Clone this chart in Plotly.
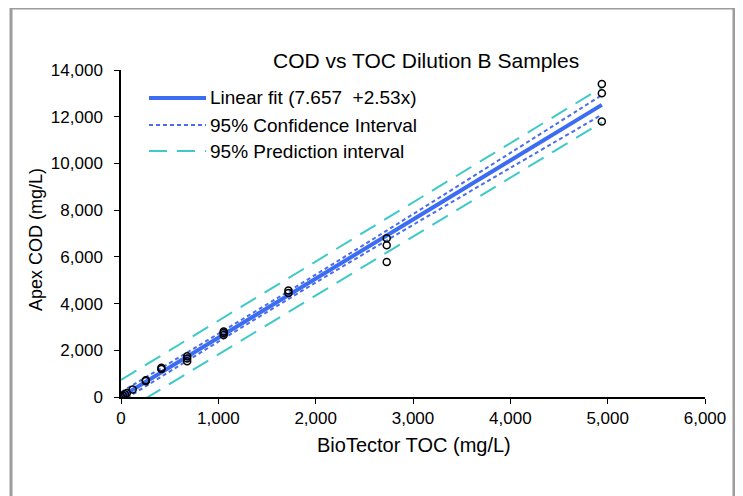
import plotly.graph_objects as go

# Measured samples (BioTector TOC vs Apex COD, mg/L)
toc = [0, 20, 40, 60, 120, 255, 255, 415, 415, 680, 680, 680,
       1055, 1055, 1055, 1720, 1720, 2730, 2730, 2730, 4940, 4940, 4940]
cod = [0, 60, 120, 170, 320, 680, 720, 1200, 1250, 1530, 1650, 1740,
       2650, 2740, 2800, 4450, 4560, 6800, 6500, 5780, 13400, 13000, 11800]

# Linear fit line (7.657 + 2.53x)
fit_x = [0, 4940]
fit_y = [8, 12506]

# 95% confidence band
ci_x = [0, 1000, 2000, 3000, 4000, 4940]
ci_upper = [208, 2708, 5238, 7828, 10448, 12926]
ci_lower = [-192, 2368, 4898, 7368, 9808, 12086]

# 95% prediction band
pi_x = [0, 2500, 4940]
pi_upper = [730, 7080, 13250]
pi_lower = [-700, 5600, 11760]

legend_labels = ['Linear fit (7.657  +2.53x)', '95% Confidence Interval',
                 '95% Prediction interval']

FIT_BLUE = '#3b6cf2'
CI_BLUE = '#4a6cf0'
PI_CYAN = '#3fc9c9'
FONT = 'Liberation Sans, Arial, sans-serif'

# the page adds an 8px body margin, so the figure is drawn 8px smaller
# and every pixel position below is taken from the reference minus 8
OFF = 8
W, H = 743 - OFF, 496 - OFF
L, R, T, B = 121 - OFF, 705 - OFF, 70 - OFF, 397 - OFF  # plot area


def px(x):
    return (x - OFF - L) / (R - L)


def py(y):
    return (B - (y - OFF)) / (B - T)


fig = go.Figure()

for ys in (pi_upper, pi_lower):
    fig.add_trace(go.Scatter(x=pi_x, y=ys, mode='lines',
                             line=dict(color=PI_CYAN, width=2, dash='18px,10px'),
                             showlegend=False, hoverinfo='skip'))
for ys in (ci_upper, ci_lower):
    fig.add_trace(go.Scatter(x=ci_x, y=ys, mode='lines', line_shape='spline',
                             line=dict(color=CI_BLUE, width=2, dash='4px,3px'),
                             showlegend=False, hoverinfo='skip'))
fig.add_trace(go.Scatter(x=fit_x, y=fit_y, mode='lines',
                         line=dict(color=FIT_BLUE, width=4),
                         showlegend=False))
fig.add_trace(go.Scatter(x=toc, y=cod, mode='markers',
                         marker=dict(symbol='circle-open', size=7,
                                     color='black', line=dict(width=1.5)),
                         showlegend=False))

# outer frame
shapes = [dict(type='rect', xref='paper', yref='paper',
               x0=px(11), x1=px(734), y0=py(520), y1=py(8),
               line=dict(color='#9c9c9c', width=3))]

# hand-drawn legend
rows = [98, 125, 151]
styles = [dict(color=FIT_BLUE, width=4),
          dict(color=CI_BLUE, width=2, dash='4px,3px'),
          dict(color=PI_CYAN, width=2, dash='18px,10px')]
annotations = []
for row, st, lab in zip(rows, styles, legend_labels):
    shapes.append(dict(type='line', xref='paper', yref='paper',
                       x0=px(149), x1=px(206), y0=py(row), y1=py(row), line=st))
    annotations.append(dict(text=lab, xref='paper', yref='paper',
                            x=px(208), y=py(row), xanchor='left', yanchor='middle',
                            showarrow=False, font=dict(size=19, color='black')))

annotations.append(dict(text='COD vs TOC Dilution B Samples', xref='paper',
                        yref='paper', x=px(426), y=py(61), xanchor='center',
                        yanchor='middle', showarrow=False,
                        font=dict(size=21, color='black')))
annotations.append(dict(text='BioTector TOC (mg/L)', xref='paper',
                        yref='paper', x=px(414), y=py(445), xanchor='center',
                        yanchor='middle', showarrow=False,
                        font=dict(size=20, color='black')))
annotations.append(dict(text='Apex COD (mg/L)', xref='paper', textangle=-90,
                        yref='paper', x=px(36), y=py(240), xanchor='center',
                        yanchor='middle', showarrow=False,
                        font=dict(size=18, color='black')))

fig.update_layout(
    width=W, height=H,
    margin=dict(l=L, r=W - R, t=T, b=H - B),
    plot_bgcolor='white', paper_bgcolor='white',
    font=dict(family=FONT, size=17, color='black'),
    shapes=shapes, annotations=annotations,
    showlegend=False,
)
fig.update_xaxes(range=[0, 6000], dtick=1000, tickformat=',d',
                 showgrid=False, zeroline=False, showline=True,
                 linecolor='black', linewidth=1.5, ticks='outside',
                 ticklen=5, tickcolor='black', tickfont=dict(size=17),
                 automargin=False)
fig.update_yaxes(range=[0, 14000], dtick=2000, tickformat=',d',
                 showgrid=False, zeroline=False, showline=True,
                 linecolor='black', linewidth=1.5, ticks='outside',
                 ticklen=5, tickcolor='black', tickfont=dict(size=17),
                 ticklabelstandoff=8, automargin=False)

fig.write_html('out.html')
